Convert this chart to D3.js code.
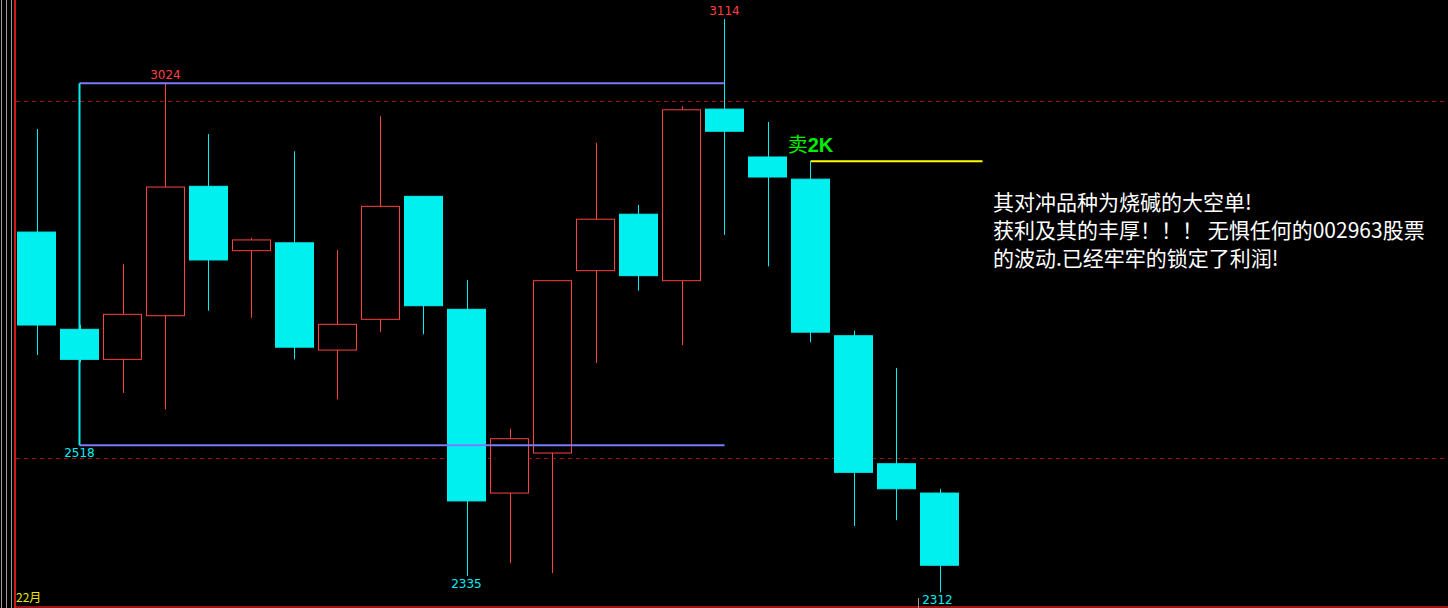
<!DOCTYPE html>
<html>
<head>
<meta charset="utf-8">
<script src="https://cdn.jsdelivr.net/npm/d3@7"></script>
<style>
  html, body { margin: 0; padding: 0; background: #000; overflow: hidden; }
  svg { display: block; }
</style>
</head>
<body>
<script>
// daily candles
var opens  = [2816, 2680, 2638, 2699, 2880, 2790, 2801, 2651, 2694, 2866, 2708, 2451, 2507, 2762, 2841, 2748, 2988, 2921, 2890, 2671, 2492, 2451];
var highs  = [2960, 2686, 2771, 3024, 2953, 2808, 2929, 2791, 2978, 2866, 2749, 2541, 2748, 2941, 2854, 2992, 3114, 2970, 2915, 2678, 2626, 2457];
var lows   = [2644, 2634, 2591, 2568, 2706, 2696, 2638, 2582, 2676, 2673, 2335, 2353, 2339, 2633, 2734, 2658, 2812, 2768, 2662, 2405, 2413, 2312];
var closes = [2686, 2638, 2701, 2879, 2777, 2805, 2655, 2687, 2852, 2713, 2440, 2527, 2748, 2834, 2755, 2987, 2957, 2893, 2676, 2480, 2457, 2350];

// marked extremes: [index, value, "high"|"low"]
var marks = [[3, 3024, "high"], [16, 3114, "high"], [10, 2335, "low"], [21, 2312, "low"]];
var boxRange = [1, 16];
var boxLevels = [3024, 2518];
var gridLevels = [3000, 2500];
var sellIndex = 18;
var noteLines = [
  "其对冲品种为烧碱的大空单!",
  "获利及其的丰厚！！！ 无惧任何的002963股票",
  "的波动.已经牢牢的锁定了利润!"
];

var width = 1448, height = 608;
var cyan = "#00f0f0", red = "#ff4040";

var svg = d3.select("body").append("svg").attr("width", width).attr("height", height);
svg.append("rect").attr("width", width).attr("height", height).attr("fill", "#000");

var x = d3.scaleLinear().domain([0, 21]).range([36.5, 939.5]);
var y = d3.scaleLinear().domain([2335, 3114]).range([576, 19]);
var bodyW = 39;

// left frame lines
[1.5, 6.5, 11.5].forEach(function (lx) {
    svg.append("line").attr("x1", lx).attr("x2", lx).attr("y1", 0).attr("y2", height)
        .attr("stroke", "#9a9a9a").attr("stroke-width", 1);
});
svg.append("line").attr("x1", 15).attr("x2", 15).attr("y1", 0).attr("y2", height)
    .attr("stroke", "#d01818").attr("stroke-width", 2);
svg.append("line").attr("x1", 15).attr("x2", width).attr("y1", 607).attr("y2", 607)
    .attr("stroke", "#d01818").attr("stroke-width", 1.5);

// dashed grid
svg.selectAll(".grid").data(gridLevels).enter().append("line")
    .attr("x1", 16).attr("x2", width)
    .attr("y1", (d) => Math.round(y(d)) + 0.5).attr("y2", (d) => Math.round(y(d)) + 0.5)
    .attr("stroke", "#a01010").attr("stroke-dasharray", "4,4").attr("stroke-width", 1);

// candles
var candles = svg.append("g").selectAll("g").data(opens).enter().append("g");
candles.append("line")
    .attr("x1", (d, i) => Math.round(x(i)) + 0.5).attr("x2", (d, i) => Math.round(x(i)) + 0.5)
    .attr("y1", (d, i) => y(highs[i])).attr("y2", (d, i) => y(lows[i]))
    .attr("stroke", (d, i) => closes[i] >= d ? red : cyan).attr("stroke-width", 1);
candles.append("rect")
    .attr("x", (d, i) => Math.round(x(i) - bodyW / 2) + 0.5)
    .attr("y", (d, i) => y(Math.max(d, closes[i])))
    .attr("width", bodyW - 1)
    .attr("height", (d, i) => Math.max(1, Math.abs(y(d) - y(closes[i]))))
    .attr("fill", (d, i) => closes[i] >= d ? "#000" : cyan)
    .attr("stroke", (d, i) => closes[i] >= d ? red : cyan)
    .attr("stroke-width", 1);

// box drawn above candles
svg.selectAll(".box").data(boxLevels).enter().append("line")
    .attr("x1", x(boxRange[0])).attr("x2", x(boxRange[1]))
    .attr("y1", (d) => y(d)).attr("y2", (d) => y(d))
    .attr("stroke", "#7b7bff").attr("stroke-width", 2);
svg.append("line").attr("x1", x(boxRange[0])).attr("x2", x(boxRange[0]))
    .attr("y1", y(boxLevels[0])).attr("y2", y(boxLevels[1]))
    .attr("stroke", cyan).attr("stroke-width", 2);

// extreme labels
svg.selectAll(".mark").data(marks).enter().append("text")
    .attr("x", (d) => x(d[0]) + (d[0] == 21 ? -2 : 0))
    .attr("y", (d) => d[2] == "high" ? y(d[1]) - 4 : Math.min(y(d[1]) + 12, 605))
    .attr("text-anchor", "middle")
    .attr("fill", (d) => d[2] == "high" ? red : cyan)
    .style("font-family", "'DejaVu Sans', sans-serif").style("font-size", "12px")
    .text((d) => d[1]);
svg.append("text").attr("x", x(boxRange[0])).attr("y", y(boxLevels[1]) + 12)
    .attr("text-anchor", "middle").attr("fill", cyan)
    .style("font-family", "'DejaVu Sans', sans-serif").style("font-size", "12px")
    .text(boxLevels[1]);
svg.append("line").attr("x1", 918.5).attr("x2", 918.5).attr("y1", 598).attr("y2", 608)
    .attr("stroke", "#9a9a9a");

// sell signal
svg.append("line").attr("x1", x(sellIndex)).attr("x2", x(sellIndex + 4))
    .attr("y1", y(highs[sellIndex])).attr("y2", y(highs[sellIndex]))
    .attr("stroke", "#ffff00").attr("stroke-width", 2);
var sell = svg.append("text").attr("x", x(sellIndex)).attr("y", 152)
    .attr("text-anchor", "middle").attr("fill", "#00ee00").style("font-size", "20px");
sell.append("tspan").style("font-family", "'Noto Sans CJK SC', serif").text("卖");
sell.append("tspan").style("font-family", "'Liberation Sans', Arial, sans-serif")
    .style("font-weight", "bold").text("2K");

// note
svg.selectAll(".note").data(noteLines).enter().append("text")
    .attr("x", 993).attr("y", (d, i) => 210 + i * 28)
    .attr("fill", "#ffffff")
    .style("font-family", "'Noto Sans CJK SC', sans-serif").style("font-size", "21px")
    .text((d) => d);

// month label
svg.append("text").attr("x", 16).attr("y", 602).attr("fill", "#e8e800")
    .style("font-family", "'Noto Sans CJK SC', sans-serif").style("font-size", "12px")
    .text("22月");
</script>
</body>
</html>
